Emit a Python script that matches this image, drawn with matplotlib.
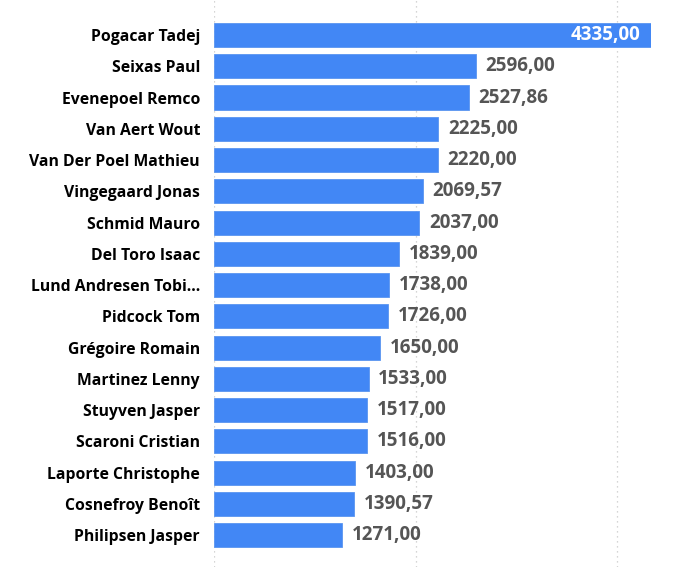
import matplotlib.pyplot as plt

riders = ["Pogacar Tadej", "Seixas Paul", "Evenepoel Remco", "Van Aert Wout",
          "Van Der Poel Mathieu", "Vingegaard Jonas", "Schmid Mauro",
          "Del Toro Isaac", "Lund Andresen Tobi...", "Pidcock Tom",
          "Grégoire Romain", "Martinez Lenny", "Stuyven Jasper",
          "Scaroni Cristian", "Laporte Christophe", "Cosnefroy Benoît",
          "Philipsen Jasper"]
points = [4335.00, 2596.00, 2527.86, 2225.00, 2220.00, 2069.57, 2037.00,
          1839.00, 1738.00, 1726.00, 1650.00, 1533.00, 1517.00, 1516.00,
          1403.00, 1390.57, 1271.00]

plt.rcParams['font.family'] = ['Open Sans', 'DejaVu Sans']

fig = plt.figure(figsize=(6.8, 5.67), dpi=100)
ax = fig.add_axes([214 / 680, 0, (651 - 214) / 680, 1])

y = range(len(riders))
ax.barh(y, points, height=0.77, color='#4287f5', edgecolor='#5a95f0', linewidth=0.6, zorder=2)

ax.set_xlim(0, 4335)
ax.set_ylim(17.02, -1.12)

# vertical dotted grid
for gx in [0, 2000, 4000]:
    ax.axvline(gx, color='#c8c8c8', linestyle=(0, (1, 3)), linewidth=0.9, zorder=1)

for i, v in enumerate(points):
    txt = f"{v:.2f}".replace('.', ',')
    if i == 0:
        ax.text(v - 110, i, txt, ha='right', va='center', color='white',
                fontsize=13.5, fontweight='bold', zorder=3)
    else:
        ax.text(v + 95, i, txt, ha='left', va='center', color='#555555',
                fontsize=13.5, fontweight='bold', zorder=3)

ax.set_yticks(list(y))
ax.set_yticklabels(riders, fontsize=11.3, fontweight='bold', color='#000000')
ax.tick_params(axis='y', length=0, pad=10)
ax.set_xticks([])
for s in ax.spines.values():
    s.set_visible(False)

fig.savefig('out.png', dpi=100)
